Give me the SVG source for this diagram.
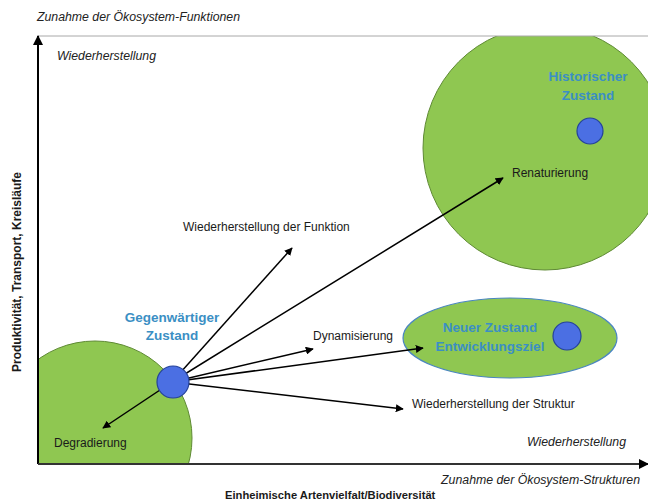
<svg xmlns="http://www.w3.org/2000/svg" width="648" height="504" viewBox="0 0 648 504">
<defs>
<style>
.t{font-family:"Liberation Sans",Arial,sans-serif;font-size:12px;fill:#1a1a1a}
.it{font-style:italic;font-size:12.3px;fill:#222}
.b{font-weight:bold;font-size:11.2px}
.blue{font-family:"Liberation Sans",Arial,sans-serif;font-size:13.5px;font-weight:bold;fill:#3b8fc4;text-anchor:middle}
.zone{fill:#8fc751;stroke:#5f8a35;stroke-width:1}
.dot{fill:#4b6fe3;stroke:#25429a;stroke-width:1.2}
.conn{stroke:#000;stroke-width:1.5;fill:none}
.arr{marker-end:url(#ah)}
</style>
<marker id="ah" viewBox="0 0 10 10" refX="9" refY="5" markerWidth="8" markerHeight="8" orient="auto" markerUnits="userSpaceOnUse">
<path d="M0,0 L10,5 L0,10 z" fill="#000"/>
</marker>
<marker id="axh" viewBox="0 0 10 10" refX="9" refY="5" markerWidth="10" markerHeight="10" orient="auto" markerUnits="userSpaceOnUse">
<path d="M0,0 L10,5 L0,10 z" fill="#000"/>
</marker>
<clipPath id="frame"><rect x="38" y="36" width="610" height="428"/></clipPath>
</defs>
<rect width="648" height="504" fill="#fff"/>

<g id="zones" clip-path="url(#frame)">
<g id="historic-zone"><circle class="zone" cx="545" cy="148" r="122"/></g>
<g id="degraded-zone"><circle class="zone" cx="95" cy="438" r="97"/></g>
</g>

<g id="axes">
<line x1="38" y1="36" x2="648" y2="36" stroke="#a8a8a8" stroke-width="1"/>
<line x1="38" y1="464" x2="38" y2="36" stroke="#000" stroke-width="2" marker-end="url(#axh)"/>
<line x1="38" y1="464" x2="648" y2="464" stroke="#333" stroke-width="2" marker-end="url(#axh)"/>
</g>

<g id="new-zone"><ellipse cx="510" cy="338" rx="107" ry="40" fill="#8fc751" stroke="#4a86c0" stroke-width="1.2"/></g>

<g id="connectors">
<line class="conn arr" x1="172" y1="382" x2="292" y2="248"/>
<line class="conn arr" x1="172" y1="382" x2="503" y2="178"/>
<line class="conn arr" x1="172" y1="382" x2="313" y2="349"/>
<line class="conn arr" x1="172" y1="382" x2="423" y2="348"/>
<line class="conn arr" x1="172" y1="382" x2="403" y2="409"/>
<line class="conn arr" x1="172" y1="382" x2="103" y2="428"/>
</g>

<g id="current-state"><circle class="dot" cx="173" cy="382" r="16"/>
<text class="blue" x="172" y="322">Gegenwärtiger</text>
<text class="blue" x="172" y="340">Zustand</text></g>
<g id="historic-state"><circle class="dot" cx="590" cy="131" r="13"/>
<text class="blue" x="588" y="81">Historischer</text>
<text class="blue" x="588" y="100">Zustand</text></g>
<g id="new-state"><circle class="dot" cx="567" cy="336" r="14"/>
<text class="blue" x="490" y="332">Neuer Zustand</text>
<text class="blue" x="490" y="351">Entwicklungsziel</text></g>

<g id="labels">
<text class="t it" x="37" y="21">Zunahme der Ökosystem-Funktionen</text>
<text class="t it" x="57" y="60">Wiederherstellung</text>
<text class="t" x="512" y="177">Renaturierung</text>
<text class="t" x="183" y="231">Wiederherstellung der Funktion</text>
<text class="t" x="313" y="340">Dynamisierung</text>
<text class="t" x="412" y="408">Wiederherstellung der Struktur</text>
<text class="t" x="54" y="447">Degradierung</text>
<text class="t it" x="626" y="446" text-anchor="end">Wiederherstellung</text>
<text class="t it" x="640" y="484" text-anchor="end">Zunahme der Ökosystem-Strukturen</text>
<text class="t b" x="225" y="499">Einheimische Artenvielfalt/Biodiversität</text>
<text class="t b" x="0" y="0" text-anchor="middle" style="font-size:12px" transform="translate(21,272) rotate(-90)">Produktivität, Transport, Kreisläufe</text>
</g>
</svg>
